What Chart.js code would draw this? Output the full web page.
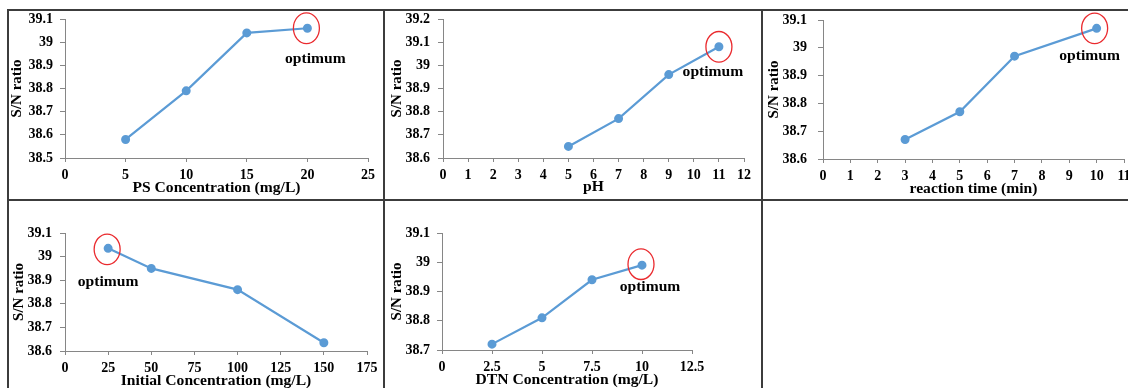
<!DOCTYPE html>
<html><head><meta charset="utf-8">
<script src="https://cdn.jsdelivr.net/npm/chart.js@4.4.1/dist/chart.umd.min.js"></script>
<style>
html,body{margin:0;padding:0;background:#fff;width:1128px;height:388px;overflow:hidden;position:relative}
canvas{position:absolute}
.ln{position:absolute;background:#3c3c3c;z-index:5}
</style></head><body>
<script>
// ---- data ----
const psConc = [5, 10, 15, 20];
const psSN = [38.58, 38.79, 39.04, 39.06];
const phVals = [5, 7, 9, 11];
const phSN = [38.65, 38.77, 38.96, 39.08];
const timeVals = [3, 5, 7, 10];
const timeSN = [38.67, 38.77, 38.97, 39.07];
const initConc = [25, 50, 100, 150];
const initSN = [39.035, 38.95, 38.86, 38.635];
const dtnConc = [2.5, 5, 7.5, 10];
const dtnSN = [38.72, 38.81, 38.94, 38.99];

const xTitles = ['PS Concentration (mg/L)', 'pH', 'reaction time (min)', 'Initial Concentration (mg/L)', 'DTN Concentration (mg/L)'];
const yTitle = 'S/N ratio';
const optLabel = 'optimum';

// ---- layout (page px) ----
const panels = [
  {xs: psConc, ys: psSN, xt: xTitles[0], xr: [0, 25, 5], yr: [38.5, 39.1, 0.1], opt: 3,
   cv: {x: 0, y: 0, w: 383, h: 200}, area: {l: 65, r: 368, t: 19, b: 158}, ytx: 17.5, xty: 188, gap: 12,
   ann: {cx: -1, cy: 0, dx: 8, dy: 31}},
  {xs: phVals, ys: phSN, xt: xTitles[1], xr: [0, 12, 1], yr: [38.6, 39.2, 0.1], opt: 3,
   cv: {x: 383, y: 0, w: 379, h: 200}, area: {l: 443, r: 744, t: 19, b: 158}, ytx: 397, xty: 187, gap: 13,
   ann: {cx: 0, cy: 0, dx: -6, dy: 25}},
  {xs: timeVals, ys: timeSN, xt: xTitles[2], xr: [0, 11, 1], yr: [38.6, 39.1, 0.1], opt: 3,
   cv: {x: 762, y: 0, w: 380, h: 200}, area: {l: 823, r: 1124, t: 20, b: 159}, ytx: 774, xty: 189, gap: 16,
   ann: {cx: -2, cy: 0, dx: -7, dy: 28}},
  {xs: initConc, ys: initSN, xt: xTitles[3], xr: [0, 175, 25], yr: [38.6, 39.1, 0.1], opt: 0,
   cv: {x: 0, y: 200, w: 383, h: 200}, area: {l: 65, r: 367, t: 233, b: 351}, ytx: 19, xty: 380.5, gap: 13,
   ann: {cx: -1, cy: 1, dx: 0, dy: 34}},
  {xs: dtnConc, ys: dtnSN, xt: xTitles[4], xr: [0, 12.5, 2.5], yr: [38.7, 39.1, 0.1], opt: 3,
   cv: {x: 383, y: 200, w: 379, h: 200}, area: {l: 442, r: 692, t: 233, b: 350}, ytx: 397.5, xty: 379.5, gap: 12,
   ann: {cx: -1, cy: -1, dx: 8, dy: 22}}
];

const FONT = 'Liberation Serif';
const BLUE = '#5b9bd5';
const AXIS = '#868686';

const optPlugin = {
  id: 'opt',
  afterDatasetsDraw(chart, args, o) {
    const p = chart.getDatasetMeta(0).data[o.index];
    const ctx = chart.ctx;
    ctx.save();
    ctx.strokeStyle = '#ea2a2e';
    ctx.lineWidth = 1.3;
    ctx.beginPath();
    ctx.ellipse(p.x + o.cx, p.y + o.cy, 13, 15.3, 0, 0, Math.PI * 2);
    ctx.stroke();
    ctx.font = 'bold 15.6px "' + FONT + '"';
    ctx.fillStyle = '#000';
    ctx.textAlign = 'center';
    ctx.textBaseline = 'middle';
    ctx.fillText(optLabel, p.x + o.dx, p.y + o.dy);
    ctx.restore();
  }
};

const fmt = v => String(Number(v.toFixed(3)));

panels.forEach(pn => {
  const c = document.createElement('canvas');
  c.width = pn.cv.w; c.height = pn.cv.h;
  c.style.left = pn.cv.x + 'px'; c.style.top = pn.cv.y + 'px';
  c.style.width = pn.cv.w + 'px'; c.style.height = pn.cv.h + 'px';
  document.body.appendChild(c);
  const lh = 18;
  const yW = pn.area.l - pn.cv.x;
  const xH = pn.cv.y + pn.cv.h - pn.area.b;
  new Chart(c, {
    type: 'line',
    data: {
      datasets: [{
        data: pn.xs.map((x, i) => ({x, y: pn.ys[i]})),
        borderColor: BLUE, backgroundColor: BLUE,
        borderWidth: 2.2, pointRadius: 3.4, pointHoverRadius: 3.4,
        pointBackgroundColor: BLUE, pointBorderColor: BLUE, tension: 0
      }]
    },
    options: {
      responsive: false, animation: false, devicePixelRatio: 1,
      layout: {padding: {left: 0, top: pn.area.t - pn.cv.y, right: pn.cv.x + pn.cv.w - pn.area.r, bottom: 0}},
      plugins: {legend: {display: false}, tooltip: {enabled: false},
        opt: Object.assign({index: pn.opt}, pn.ann)},
      scales: {
        x: {
          type: 'linear', min: pn.xr[0], max: pn.xr[1],
          afterFit: s => { s.height = xH; },
          ticks: {stepSize: pn.xr[2], color: '#000', padding: 5, font: {family: FONT, size: 14, weight: 'bold'}, callback: fmt, maxRotation: 0, autoSkip: false},
          grid: {drawOnChartArea: false, drawTicks: true, tickLength: 4, color: AXIS},
          border: {display: true, color: AXIS, width: 1},
          title: {display: true, text: pn.xt, color: '#000', font: {family: FONT, size: 15.6, weight: 'bold', lineHeight: 1.15},
            padding: {top: 0, bottom: pn.cv.y + pn.cv.h - pn.xty - lh / 2}}
        },
        y: {
          type: 'linear', min: pn.yr[0], max: pn.yr[1],
          afterFit: s => { s.width = yW; },
          ticks: {stepSize: pn.yr[2], color: '#000', padding: pn.gap - 5, font: {family: FONT, size: 14, weight: 'bold'}, callback: fmt, autoSkip: false},
          grid: {drawOnChartArea: false, drawTicks: true, tickLength: 5, color: AXIS},
          border: {display: true, color: AXIS, width: 1},
          title: {display: true, text: yTitle, color: '#000', font: {family: FONT, size: 15, weight: 'bold'},
            padding: {top: pn.ytx - pn.cv.x - lh / 2, bottom: 0}}
        }
      }
    },
    plugins: [optPlugin]
  });
});

// panel frame lines
[[8, 9, 1120, 2], [8, 198.5, 1120, 2], [7, 9, 2, 379], [383, 9, 2, 379], [761, 9, 2, 379]].forEach(r => {
  const d = document.createElement('div');
  d.className = 'ln';
  d.style.left = r[0] + 'px'; d.style.top = r[1] + 'px';
  d.style.width = r[2] + 'px'; d.style.height = r[3] + 'px';
  document.body.appendChild(d);
});
</script>
</body></html>
